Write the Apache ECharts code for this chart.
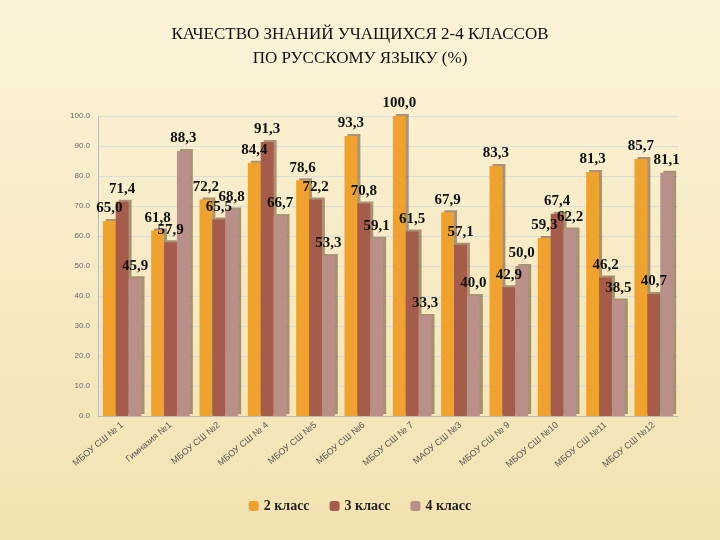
<!DOCTYPE html>
<html>
<head>
<meta charset="utf-8">
<style>
  * { margin: 0; padding: 0; }
  body { background: linear-gradient(#fbf3d8, #f2e2b0); }
  #chart { width: 720px; height: 540px; }
</style>
<script src="https://cdn.jsdelivr.net/npm/echarts@6/dist/echarts.min.js"></script>
</head>
<body>
<div id="chart"></div>
<script>
var schools = ['МБОУ СШ № 1', 'Гимназия №1', 'МБОУ СШ №2', 'МБОУ СШ № 4', 'МБОУ СШ №5', 'МБОУ СШ №6',
  'МБОУ СШ № 7', 'МАОУ СШ №3', 'МБОУ СШ № 9', 'МБОУ СШ №10', 'МБОУ СШ №11', 'МБОУ СШ №12'];
var grade2 = [65.0, 61.8, 72.2, 84.4, 78.6, 93.3, 100.0, 67.9, 83.3, 59.3, 81.3, 85.7];
var grade3 = [71.4, 57.9, 65.5, 91.3, 72.2, 70.8, 61.5, 57.1, 42.9, 67.4, 46.2, 40.7];
var grade4 = [45.9, 88.3, 68.8, 66.7, 53.3, 59.1, 33.3, 40.0, 50.0, 62.2, 38.5, 81.1];

var chart = echarts.init(document.getElementById('chart'));

function ser(name, data, color) {
  return {
    name: name, type: 'bar', data: data, barGap: '0%', barCategoryGap: '20%',
    itemStyle: { color: color, shadowColor: 'rgba(90,60,30,0.5)', shadowOffsetX: 3, shadowOffsetY: -2 },
    label: {
      show: true, position: 'top', color: '#111', fontFamily: 'Liberation Serif',
      fontWeight: 'bold', fontSize: 15,
      formatter: function (p) { return p.value.toFixed(1).replace('.', ','); }
    }
  };
}

chart.setOption({
  textStyle: { fontFamily: 'Liberation Serif' },
  title: {
    text: 'КАЧЕСТВО ЗНАНИЙ УЧАЩИХСЯ 2-4 КЛАССОВ\nПО РУССКОМУ ЯЗЫКУ (%)',
    left: 'center', top: 18,
    textStyle: { fontFamily: 'Liberation Serif', fontSize: 17, fontWeight: 'normal', color: '#111', lineHeight: 24 }
  },
  legend: {
    bottom: 22, left: 'center', itemWidth: 10, itemHeight: 10, itemGap: 20,
    textStyle: { fontFamily: 'Liberation Serif', fontWeight: 'bold', fontSize: 14, color: '#222' }
  },
  grid: { left: 98, right: 42, top: 116, bottom: 124 },
  xAxis: {
    type: 'category', data: schools,
    axisLine: { lineStyle: { color: '#bbb' } }, axisTick: { show: false },
    axisLabel: { interval: 0, rotate: 40, fontSize: 9, color: '#555', fontFamily: 'Liberation Sans' }
  },
  yAxis: {
    type: 'value', min: 0, max: 100, interval: 10,
    axisLine: { show: true, lineStyle: { color: '#bbb' } },
    axisLabel: { fontSize: 8, color: '#666', fontFamily: 'Liberation Sans',
      formatter: function (v) { return v.toFixed(1); } },
    splitLine: { lineStyle: { color: '#ddd' } }
  },
  series: [
    ser('2 класс', grade2, '#f0a22e'),
    ser('3 класс', grade3, '#a65c4a'),
    ser('4 класс', grade4, '#b98f8a')
  ]
});
</script>
</body>
</html>
